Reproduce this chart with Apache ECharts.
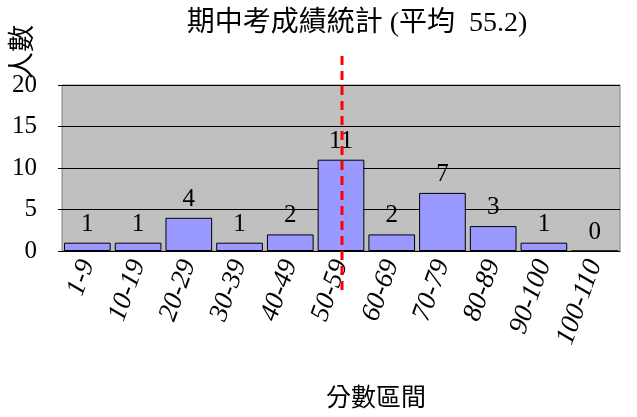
<!DOCTYPE html>
<html><head><meta charset="utf-8">
<script src="https://cdn.jsdelivr.net/npm/echarts@6/dist/echarts.min.js"></script>
<style>html,body{margin:0;padding:0;background:#fff}#c{width:637px;height:417px}</style>
</head><body><div id="c"></div>
<script>
const categories = ['1-9','10-19','20-29','30-39','40-49','50-59','60-69','70-79','80-89','90-100','100-110'];
const counts = [1,1,4,1,2,11,2,7,3,1,0];
const yTicks = [0,5,10,15,20];
const meanScore = 55.2;
const meanLineY = [-4.7, 23.6];
const titleText = '期中考成績統計 (平均  55.2)';

const serif = '"Liberation Serif","Noto Sans CJK TC",serif';
const chart = echarts.init(document.getElementById('c'));
chart.setOption({
  animation: false,
  title: {text: titleText, left: 352, top: 5, textAlign: 'center',
    textStyle: {fontFamily: serif, fontSize: 28, fontWeight: 'normal', color: '#000'}},
  graphic: [{
    type: 'text', x: 10, y: 79, rotation: Math.PI / 2,
    style: {text: '人數', font: '27px ' + serif, fill: '#000', textAlign: 'left', textVerticalAlign: 'top'}
  }],
  grid: {left: 62, right: 17, top: 85, bottom: 166, outerBoundsMode: 'none', containLabel: false,
    show: true, backgroundColor: '#C0C0C0', borderColor: '#808080', borderWidth: 1},
  xAxis: [{
    type: 'category', data: categories,
    axisLine: {lineStyle: {color: '#000'}},
    axisTick: {show: false},
    axisLabel: {rotate: 70, fontFamily: serif, fontStyle: 'italic', fontSize: 27, color: '#000', margin: 10, interval: 0},
    name: '分數區間', nameLocation: 'middle', nameGap: 136,
    nameTextStyle: {fontFamily: serif, fontSize: 25, color: '#000', padding: [0,0,0,70]}
  }, {
    type: 'value', min: 0, max: 110, show: false
  }],
  yAxis: {
    type: 'value', min: yTicks[0], max: yTicks[yTicks.length-1], interval: 5,
    axisLine: {show: false},
    axisTick: {show: true, length: 4, lineStyle: {color: '#000'}},
    splitLine: {lineStyle: {color: '#000', width: 1}},
    axisLabel: {fontFamily: serif, fontSize: 25, color: '#000', margin: 25},
  },
  series: [{
    type: 'bar', data: counts, barCategoryGap: '8%',
    itemStyle: {color: '#9999FF', borderColor: '#000', borderWidth: 1},
    label: {show: true, position: 'top', distance: 6, fontFamily: serif, fontSize: 25, color: '#000'}
  }, {
    type: 'line', xAxisIndex: 1, clip: false, symbol: 'none',
    data: [[meanScore, meanLineY[0]], [meanScore, meanLineY[1]]],
    lineStyle: {color: '#FF0000', width: 3, type: [9, 6]}, z: 5
  }]
});
</script></body></html>
